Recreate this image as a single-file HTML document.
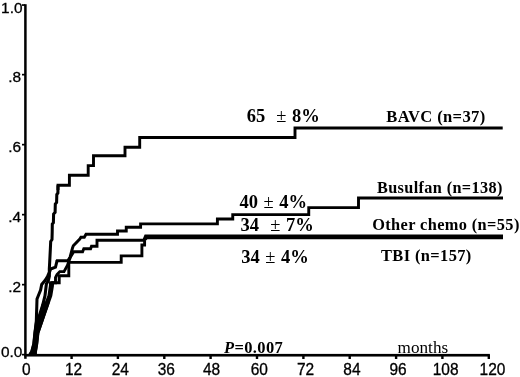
<!DOCTYPE html>
<html lang="en">
<head>
<meta charset="utf-8">
<title>Cumulative incidence chart</title>
<style>
html,body{margin:0;padding:0;background:#fff;}
body{width:520px;height:377px;overflow:hidden;position:relative;}
svg{position:absolute;left:0;top:0;display:block;}
.ax{font-family:"Liberation Sans",Arial,sans-serif;font-size:15.4px;fill:#000;stroke:#000;stroke-width:0.3px;}
.axx{font-size:15.8px;}
.sb{font-family:"Liberation Serif","Times New Roman",serif;font-weight:bold;fill:#000;}
.pc{font-size:18.5px;word-spacing:0.95px;}
.lb{font-size:17.5px;letter-spacing:0.4px;}
.pm{font-weight:normal;}
.mo{font-family:"Liberation Serif","Times New Roman",serif;font-size:17px;fill:#000;}
.cv{fill:none;stroke:#000;stroke-width:2.9;stroke-linejoin:miter;stroke-linecap:butt;}
</style>
</head>
<body>
<svg width="520" height="377" viewBox="0 0 520 377">
<rect x="0" y="0" width="520" height="377" fill="#fff"/>
<g id="axes" fill="#000">
<rect x="24.15" y="4.2" width="2.5" height="354.6"/>
<rect x="24.2" y="353.9" width="465.7" height="2.65"/>
<rect x="22" y="4.2" width="3" height="1.7"/>
<rect x="22" y="73.8" width="3" height="1.7"/>
<rect x="22" y="143.8" width="3" height="1.7"/>
<rect x="22" y="213.8" width="3" height="1.7"/>
<rect x="22" y="283.8" width="3" height="1.7"/>
<rect x="22" y="353.8" width="3" height="1.7"/>
<rect x="70.4" y="355" width="2.4" height="4"/>
<rect x="116.7" y="355" width="2.4" height="4"/>
<rect x="163.1" y="355" width="2.4" height="4"/>
<rect x="209.4" y="355" width="2.4" height="4"/>
<rect x="255.8" y="355" width="2.4" height="4"/>
<rect x="302.2" y="355" width="2.4" height="4"/>
<rect x="348.5" y="355" width="2.4" height="4"/>
<rect x="394.9" y="355" width="2.4" height="4"/>
<rect x="441.2" y="355" width="2.4" height="4"/>
<rect x="487.6" y="355" width="2.4" height="4"/>
</g>
<g id="curves" class="cv">
<polygon fill="#000" stroke="none" points="28.5,355 30.3,352 32.4,344 33.5,333 34.9,322 35.3,316 38.5,316 41.5,305 42.3,302 49.9,302 49.0,305 45.3,316 43.2,322 41.4,327 39.3,333 38.1,344 36.8,352 36.8,355"/>
<g stroke-width="3.05">
<path d="M31.5,354.5 L32.8,352 L34.6,344 L35.8,333 L38.3,322 L39.5,315 L42.7,305 L45,295.7 L45.9,288 L46.4,284 L48.3,280.6 L49.4,276 L49.3,269 L49.7,262 L50.3,250 L50.7,241.5 L52,239.5 L52.2,232 L52.3,224 L53.4,222.6 L53.6,214 L55.1,212.4 L55.3,204 L56.6,202.4 L56.8,194.5 L57.9,193 L58,185.3"/>
<path d="M29.7,354.5 L31.6,352 L33.8,344 L34.9,333 L36.3,322 L36.5,315 L36.8,306 L37,299 L39,294 L40.6,290 L41.7,284.5 L45,280.6 L47.5,276.5 L49.6,272 L50.6,269 L55.5,267.2 L57,261 L57.2,260.7"/>
<path d="M33.5,354.5 L34.2,352 L35.9,344 L37,333 L39.8,322 L41.9,315 L45.3,305 L49,295.7 L50.4,286 L50.6,282.7"/>
<path d="M35.1,354.5 L35.4,352 L36.7,344 L37.9,333 L41.6,322 L43.9,315 L47.5,305 L50.8,295.7 L52.4,286 L52.6,282.7"/>
</g>
<path id="bavc" d="M58,190 L58,185.3 L69.4,185.3 L69.4,175.2 L88.2,175.2 L88.2,165.6 L93.5,165.6 L93.5,155.8 L125,155.8 L125,147.3 L139.7,147.3 L139.7,137.5 L295,137.5 L295,128.0 L502.7,128.0"/>
<path id="busulfan" d="M56.9,261.6 L57.2,260.7 L67.8,260.7 L70,257.2 L72.5,248 L73.3,245.8 L79.8,239 L80.9,237.3 L84.3,237.3 L86,234.3 L117.5,234.3 L117.5,231 L126.25,231 L126.25,227.25 L140.6,227.25 L140.6,223.9 L217.4,223.9 L217.4,219 L232.75,219 L232.75,214.6 L308.75,214.6 L308.75,207.6 L358.5,207.6 L358.5,197.95 L503,197.95"/>
<path id="tbi" d="M50.6,284 L50.6,282.7 L55.5,282.7 L55.5,277.5 L57,274.5 L59.8,271.6 L64,271.6 L67.4,265.5 L69,261 L70.5,257 L72.9,253 L73.6,251.7 L82.6,251.7 L83.8,248.8 L90.6,248.8 L91.5,246.2 L97,246.2 L97,240.3 L143.75,240.3 L145.6,235.9 L503,235.9"/>
<path id="other" d="M52.6,284 L52.6,282.7 L59.2,282.7 L59.2,275.7 L68.8,275.7 L68.8,262.4 L121.2,262.4 L121.2,255.9 L141.9,255.9 L141.9,245 L144.6,245 L144.6,240 L147,237.8 L503,237.8"/>
</g>

<g id="labels">
<text class="ax" transform="translate(22.5,12.9) scale(1.0,1)" text-anchor="end" xml:space="preserve">1.0</text>
<text class="ax" transform="translate(21.0,82.3) scale(1.0,1)" text-anchor="end" xml:space="preserve">.8</text>
<text class="ax" transform="translate(21.0,152.3) scale(1.0,1)" text-anchor="end" xml:space="preserve">.6</text>
<text class="ax" transform="translate(21.0,222.3) scale(1.0,1)" text-anchor="end" xml:space="preserve">.4</text>
<text class="ax" transform="translate(21.0,292.3) scale(1.0,1)" text-anchor="end" xml:space="preserve">.2</text>
<text class="ax" transform="translate(22.4,356.5) scale(1.0,1)" text-anchor="end" xml:space="preserve">0.0</text>
<text class="ax axx" transform="translate(26.25,374.5) scale(0.98,1)" text-anchor="middle" xml:space="preserve">0</text>
<text class="ax axx" transform="translate(73.5,374.5) scale(0.98,1)" text-anchor="middle" xml:space="preserve">12</text>
<text class="ax axx" transform="translate(120.25,374.5) scale(0.98,1)" text-anchor="middle" xml:space="preserve">24</text>
<text class="ax axx" transform="translate(166.25,374.5) scale(0.98,1)" text-anchor="middle" xml:space="preserve">36</text>
<text class="ax axx" transform="translate(211.6,374.5) scale(0.98,1)" text-anchor="middle" xml:space="preserve">48</text>
<text class="ax axx" transform="translate(259.25,374.5) scale(0.98,1)" text-anchor="middle" xml:space="preserve">60</text>
<text class="ax axx" transform="translate(305.6,374.5) scale(0.98,1)" text-anchor="middle" xml:space="preserve">72</text>
<text class="ax axx" transform="translate(351.9,374.5) scale(0.98,1)" text-anchor="middle" xml:space="preserve">84</text>
<text class="ax axx" transform="translate(398.1,374.5) scale(0.98,1)" text-anchor="middle" xml:space="preserve">96</text>
<text class="ax axx" transform="translate(445.6,374.5) scale(0.98,1)" text-anchor="middle" xml:space="preserve">108</text>
<text class="ax axx" transform="translate(492.5,374.5) scale(0.98,1)" text-anchor="middle" xml:space="preserve">120</text>
<text class="sb pc" transform="translate(246.7,122.3) scale(1.0,1)" text-anchor="start" xml:space="preserve">65  <tspan class="pm">±</tspan> 8%</text>
<text class="sb pc" transform="translate(239.5,207.75) scale(1.0,1)" text-anchor="start" xml:space="preserve">40 <tspan class="pm">±</tspan> 4%</text>
<text class="sb pc" transform="translate(240.6,230.8) scale(1.0,1)" text-anchor="start" xml:space="preserve">34  <tspan class="pm">±</tspan> 7%</text>
<text class="sb pc" transform="translate(241.2,263.3) scale(1.0,1)" text-anchor="start" xml:space="preserve">34 <tspan class="pm">±</tspan> 4%</text>
<text class="sb lb" transform="translate(386.3,121.6) scale(0.947,1)" text-anchor="start" xml:space="preserve">BAVC (n=37)</text>
<text class="sb lb" transform="translate(377,192.8) scale(0.928,1)" text-anchor="start" xml:space="preserve">Busulfan (n=138)</text>
<text class="sb lb" transform="translate(372.2,229.6) scale(0.935,1)" text-anchor="start" xml:space="preserve">Other chemo (n=55)</text>
<text class="sb lb" transform="translate(381.0,261.25) scale(0.94,1)" text-anchor="start" xml:space="preserve">TBI (n=157)</text>
<text class="sb lb" transform="translate(224,352.7) scale(0.942,1)" text-anchor="start" xml:space="preserve"><tspan font-style="italic">P</tspan>=0.007</text>
<text class="mo" transform="translate(397.6,352.6) scale(1.01,1)" text-anchor="start" xml:space="preserve">months</text>
</g>
</svg>
</body>
</html>
